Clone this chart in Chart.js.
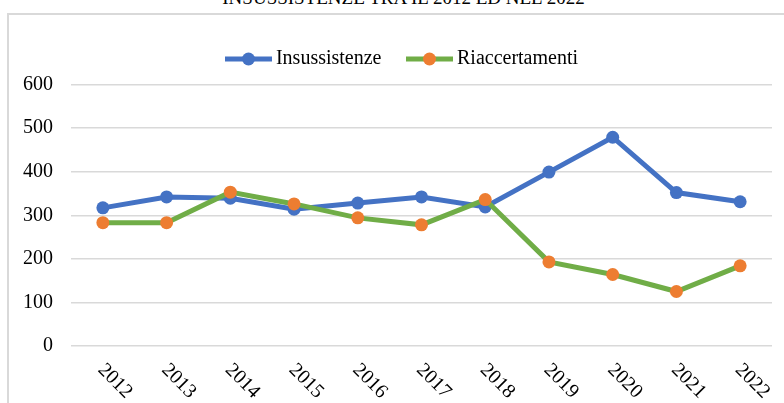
<!DOCTYPE html>
<html><head><meta charset="utf-8">
<script src="https://cdn.jsdelivr.net/npm/chart.js@4/dist/chart.umd.min.js"></script>
<style>
html,body{margin:0;padding:0;background:#fff;overflow:hidden;width:784px;height:403px}
#title{position:absolute;left:0;width:807px;top:-12.5px;text-align:center;font:19px/19px "Liberation Serif","Times New Roman",serif;color:#000;white-space:nowrap}
#box{position:absolute;left:7px;top:13px;width:800px;height:400px;border-left:2px solid #D9D9D9;border-top:2px solid #D9D9D9}
#c{position:absolute;left:0;top:0}
</style></head><body>
<div id="title">INSUSSISTENZE TRA IL 2012 ED NEL 2022</div>
<div id="box"><canvas id="c" width="791" height="388"></canvas></div>
<script>
const years = ['2012','2013','2014','2015','2016','2017','2018','2019','2020','2021','2022'];
const insussistenze = [317, 342, 339, 314, 328, 342, 319, 399, 479, 352, 331];
const riaccertamenti = [283, 283, 353, 326, 294, 278, 336, 193, 164, 125, 184];
const yTicks = [0, 100, 200, 300, 400, 500, 600];

const BLUE = '#4472C4', ORANGE = '#ED7D31', GREEN = '#70AD47';
const FONT = '"Liberation Serif", "Times New Roman", serif';

function legendIcon(lineColor, dotColor) {
  const c = document.createElement('canvas');
  c.width = 47; c.height = 14;
  const g = c.getContext('2d');
  g.strokeStyle = lineColor; g.lineWidth = 5;
  g.beginPath(); g.moveTo(0, 7); g.lineTo(47, 7); g.stroke();
  g.fillStyle = dotColor;
  g.beginPath(); g.arc(23.5, 7, 6.5, 0, Math.PI * 2); g.fill();
  return c;
}

const legendFix = {
  id: 'legendFix',
  beforeInit(chart) {
    const lg = chart.legend;
    if (!lg) return;
    const orig = lg.fit;
    lg.fit = function () { orig.call(this); this.height = 66; };
  },
  afterLayout(chart) {
    const lg = chart.legend;
    if (!lg) return;
    lg.left += 14; lg.right += 14;
  }
};

const xLabels = {
  id: 'xLabels',
  afterDraw(chart) {
    const xs = chart.scales.x, ctx = chart.ctx;
    ctx.save();
    ctx.font = '20px ' + FONT;
    ctx.fillStyle = '#000';
    ctx.textAlign = 'left';
    ctx.textBaseline = 'middle';
    years.forEach((y, i) => {
      const px = xs.getPixelForTick(i);
      ctx.save();
      ctx.translate(px - 2, chart.chartArea.bottom + 21);
      ctx.rotate(Math.PI / 4);
      ctx.fillText(y, 0, 0);
      ctx.restore();
    });
    ctx.restore();
  }
};

new Chart(document.getElementById('c'), {
  type: 'line',
  data: {
    labels: years,
    datasets: [
      { label: 'Insussistenze', data: insussistenze, borderColor: BLUE, backgroundColor: BLUE,
        pointBackgroundColor: BLUE, pointBorderColor: BLUE, borderWidth: 5, pointRadius: 6.5,
        pointBorderWidth: 0, tension: 0, order: 1, pointStyle: 'circle' },
      { label: 'Riaccertamenti', data: riaccertamenti, borderColor: GREEN, backgroundColor: ORANGE,
        pointBackgroundColor: ORANGE, pointBorderColor: ORANGE, borderWidth: 5, pointRadius: 6.5,
        pointBorderWidth: 0, tension: 0, order: 0, pointStyle: 'circle' }
    ]
  },
  options: {
    responsive: false,
    animation: false,
    devicePixelRatio: 1,
    layout: { padding: { top: 3.5, left: 0, right: 28, bottom: 0 } },
    plugins: {
      tooltip: { enabled: false },
      legend: {
        position: 'top',
        labels: {
          usePointStyle: true,
          pointStyleWidth: 35,
          padding: 30.5,
          color: '#000',
          font: { family: FONT, size: 20 },
          sort: (a, b) => a.datasetIndex - b.datasetIndex,
          generateLabels(chart) {
            return chart.data.datasets.map((ds, i) => ({
              text: ds.label,
              datasetIndex: i,
              pointStyle: i === 0 ? legendIcon(BLUE, BLUE) : legendIcon(GREEN, ORANGE),
              fillStyle: ds.backgroundColor,
              strokeStyle: ds.borderColor,
              lineWidth: 0,
              hidden: false,
              fontColor: '#000'
            }));
          }
        }
      }
    },
    scales: {
      x: {
        offset: true,
        grid: { display: false },
        border: { display: false },
        ticks: { display: false },
        afterFit(s) { s.height = 57; }
      },
      y: {
        min: 0, max: 600,
        afterBuildTicks(s) { s.ticks = yTicks.map(v => ({ value: v })); },
        grid: { color: '#D9D9D9', lineWidth: 1.5, drawTicks: false },
        border: { display: false },
        ticks: { padding: 18, color: '#000', font: { family: FONT, size: 20 } },
        afterFit(s) { s.width = 62; }
      }
    }
  },
  plugins: [legendFix, xLabels]
});
</script>
</body></html>
